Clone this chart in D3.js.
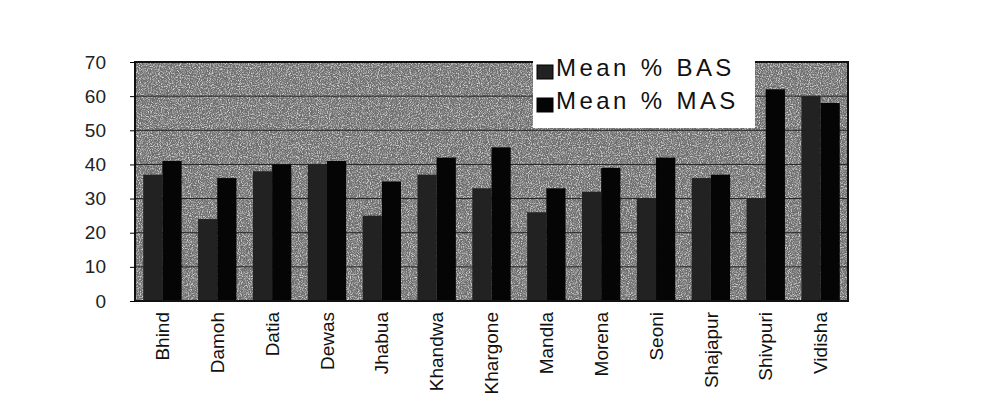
<!DOCTYPE html>
<html>
<head>
<meta charset="utf-8">
<script src="https://cdn.jsdelivr.net/npm/d3@7"></script>
<style>
body { margin: 0; background: #fff; }
text { font-family: "Liberation Sans", Arial, sans-serif; }
</style>
</head>
<body>
<div id="chart-area"></div>
<script>
var districts = ["Bhind", "Damoh", "Datia", "Dewas", "Jhabua", "Khandwa", "Khargone",
	"Mandla", "Morena", "Seoni", "Shajapur", "Shivpuri", "Vidisha"];
var meanBAS = [37, 24, 38, 40, 25, 37, 33, 26, 32, 30, 36, 30, 60];
var meanMAS = [41, 36, 40, 41, 35, 42, 45, 33, 39, 42, 37, 62, 58];
var seriesNames = ["Mean % BAS", "Mean % MAS"];
var yTicks = [0, 10, 20, 30, 40, 50, 60, 70];

var margin = {top: 62, right: 157, bottom: 106, left: 135};
var width = 1005 - margin.left - margin.right;
var height = 407 - margin.top - margin.bottom;

var svg = d3.select("#chart-area")
.append("svg")
	.attr("width", 1005)
	.attr("height", 407);

// scan-like speckle
var defs = svg.append("defs");
var f = defs.append("filter").attr("id", "speckle")
	.attr("x", 0).attr("y", 0).attr("width", 1).attr("height", 1);
f.append("feTurbulence").attr("type", "fractalNoise")
	.attr("baseFrequency", 0.9).attr("numOctaves", 2).attr("seed", 4).attr("result", "n");
f.append("feColorMatrix").attr("in", "n").attr("type", "matrix")
	.attr("values", "0 0 0 0 1  0 0 0 0 1  0 0 0 0 1  3 0 0 0 -1.3");

var g = svg.append("g")
	.attr("transform", "translate(" + margin.left + ", " + margin.top + ")");

var x0 = d3.scaleBand().domain(districts).range([0, width]).paddingInner(0.3).paddingOuter(0.15);
var x1 = d3.scaleBand().domain(seriesNames).range([0, x0.bandwidth()]);
var y = d3.scaleLinear().domain([0, 70]).range([height, 0]);
var color = d3.scaleOrdinal().domain(seriesNames).range(["#222", "#050505"]);

// plot background
g.append("rect")
	.attr("width", width)
	.attr("height", height)
	.attr("fill", "#6e6e6e");
g.append("rect")
	.attr("width", width)
	.attr("height", height)
	.attr("fill", "#fff")
	.attr("filter", "url(#speckle)")
	.attr("opacity", 0.7);

// gridlines
g.selectAll(".grid")
	.data(yTicks.filter(function(d) { return d > 0; }))
	.enter().append("line")
	.attr("x1", 0)
	.attr("x2", width)
	.attr("y1", function(d) { return y(d); })
	.attr("y2", function(d) { return y(d); })
	.attr("stroke", "#222")
	.attr("stroke-width", 1);

var rows = districts.map(function(d, i) {
	return {name: d, values: [meanBAS[i], meanMAS[i]]};
});

var groups = g.selectAll(".grp")
	.data(rows)
	.enter().append("g")
	.attr("transform", function(d) { return "translate(" + x0(d.name) + ",0)"; });

groups.selectAll("rect")
	.data(function(d) {
		return seriesNames.map(function(s, j) { return {key: s, value: d.values[j]}; });
	})
	.enter().append("rect")
	.attr("x", function(d) { return x1(d.key); })
	.attr("y", function(d) { return y(d.value); })
	.attr("width", x1.bandwidth())
	.attr("height", function(d) { return height - y(d.value); })
	.attr("fill", function(d) { return color(d.key); });

// frame
g.append("rect")
	.attr("width", width)
	.attr("height", height)
	.attr("fill", "none")
	.attr("stroke", "#111")
	.attr("stroke-width", 2);

// axes
var yAxisCall = d3.axisLeft(y).tickValues(yTicks).tickSize(5).tickPadding(24);
var yAxisGroup = g.append("g").call(yAxisCall);
yAxisGroup.select(".domain").remove();
yAxisGroup.selectAll("text")
	.attr("font-size", "19px")
	.attr("fill", "#222")
	.style("font-family", "'Liberation Sans', Arial, sans-serif");

var xAxisCall = d3.axisBottom(x0).tickSize(0).tickPadding(0);
var xAxisGroup = g.append("g")
	.attr("transform", "translate(0, " + height + ")")
	.call(xAxisCall);
xAxisGroup.select(".domain").remove();
xAxisGroup.selectAll("text")
	.attr("transform", "rotate(-90)")
	.attr("x", -11)
	.attr("y", 0)
	.attr("dy", "0.35em")
	.attr("text-anchor", "end")
	.attr("font-size", "19px")
	.attr("fill", "#111")
	.style("font-family", "'Liberation Sans', Arial, sans-serif");

// legend
var legend = svg.append("g").attr("transform", "translate(533, 50)");
legend.append("rect")
	.attr("width", 222)
	.attr("height", 78)
	.attr("fill", "#fff");
seriesNames.forEach(function(s, i) {
	var row = legend.append("g").attr("transform", "translate(4, " + (26 + i * 33) + ")");
	row.append("rect")
		.attr("x", 0)
		.attr("y", -11)
		.attr("width", 16)
		.attr("height", 14)
		.attr("fill", color(s))
		.attr("stroke", "#000");
	row.append("text")
		.attr("x", 19)
		.attr("y", 0)
		.attr("font-size", "24px")
		.attr("letter-spacing", "3.4px")
		.attr("word-spacing", "1px")
		.attr("fill", "#111")
		.text(s);
});
</script>
</body>
</html>
